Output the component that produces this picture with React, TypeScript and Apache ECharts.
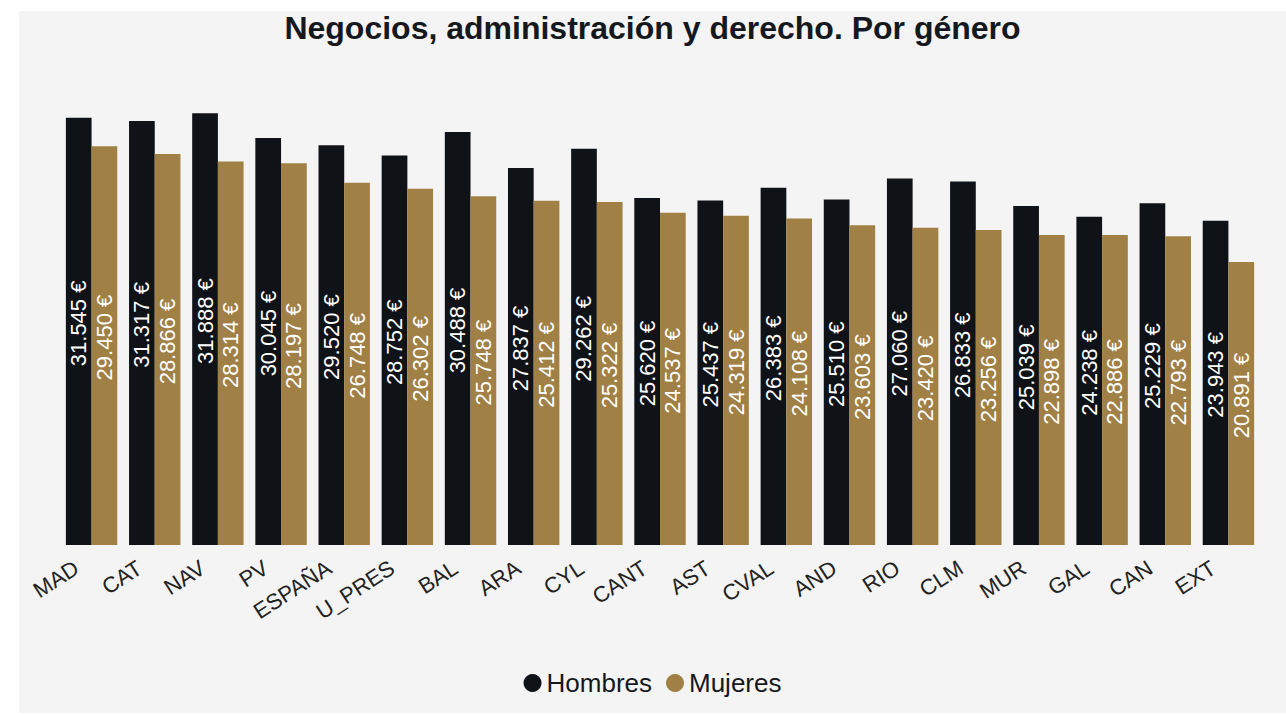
import React, { useEffect, useRef } from "react";
import * as echarts from "echarts";

const categories = ["MAD", "CAT", "NAV", "PV", "ESPAÑA", "U_PRES", "BAL", "ARA", "CYL", "CANT", "AST", "CVAL", "AND", "RIO", "CLM", "MUR", "GAL", "CAN", "EXT"];
const hombres = [31545, 31317, 31888, 30045, 29520, 28752, 30488, 27837, 29262, 25620, 25437, 26383, 25510, 27060, 26833, 25039, 24238, 25229, 23943];
const mujeres = [29450, 28866, 28314, 28197, 26748, 26302, 25748, 25412, 25322, 24537, 24319, 24108, 23603, 23420, 23256, 22898, 22886, 22793, 20891];
const seriesNames = ["Hombres", "Mujeres"];
const title = "Negocios, administración y derecho. Por género";

const fmt = (v: number) => String(v).replace(/\B(?=(\d{3})+(?!\d))/g, ".") + " €";

export default function App() {
  const ref = useRef<HTMLDivElement>(null);
  useEffect(() => {
    if (!ref.current) return;
    const chart = echarts.init(ref.current, null, { renderer: "svg" });
    const font = "'Liberation Sans', Arial, Helvetica, sans-serif";
    const label = {
      show: true,
      position: "inside",
      rotate: 90,
      offset: [8, 0],
      color: "#ffffff",
      fontSize: 22,
      fontFamily: font,
      formatter: (p: any) => fmt(p.value),
    };
    chart.setOption({
      animation: false,
      backgroundColor: "#f4f4f4",
      textStyle: { fontFamily: font },
      title: {
        text: title,
        left: "center",
        top: 1,
        padding: 0,
        textStyle: { fontSize: 32, fontWeight: "bold", color: "#15181d", fontFamily: font },
      },
      legend: {
        data: seriesNames,
        bottom: 12,
        left: "center",
        icon: "circle",
        itemWidth: 18,
        itemHeight: 18,
        itemGap: 14,
        textStyle: { fontSize: 26, color: "#15181d", fontFamily: font },
      },
      grid: { left: 41, right: 26, top: 60, bottom: 168, containLabel: false },
      xAxis: {
        type: "category",
        data: categories,
        axisLine: { show: false },
        axisTick: { show: false },
        axisLabel: {
          rotate: 33,
          margin: 11,
          fontSize: 22,
          color: "#222",
          fontFamily: font,
          interval: 0,
          padding: [0, 18, 0, 0],
        },
      },
      yAxis: {
        type: "value",
        min: 0,
        max: 35000,
        show: false,
        splitLine: { show: false },
      },
      series: [
        {
          name: seriesNames[0],
          type: "bar",
          data: hombres,
          barGap: "0%",
          barCategoryGap: "18.6%",
          itemStyle: { color: "#0f1217" },
          label,
        },
        {
          name: seriesNames[1],
          type: "bar",
          data: mujeres,
          barGap: "0%",
          barCategoryGap: "18.6%",
          itemStyle: { color: "#a08045" },
          label,
        },
      ],
    });
    return () => chart.dispose();
  }, []);
  return (
    <div
      ref={ref}
      style={{ position: "absolute", left: 19, top: 11, width: 1267, height: 702 }}
    />
  );
}
